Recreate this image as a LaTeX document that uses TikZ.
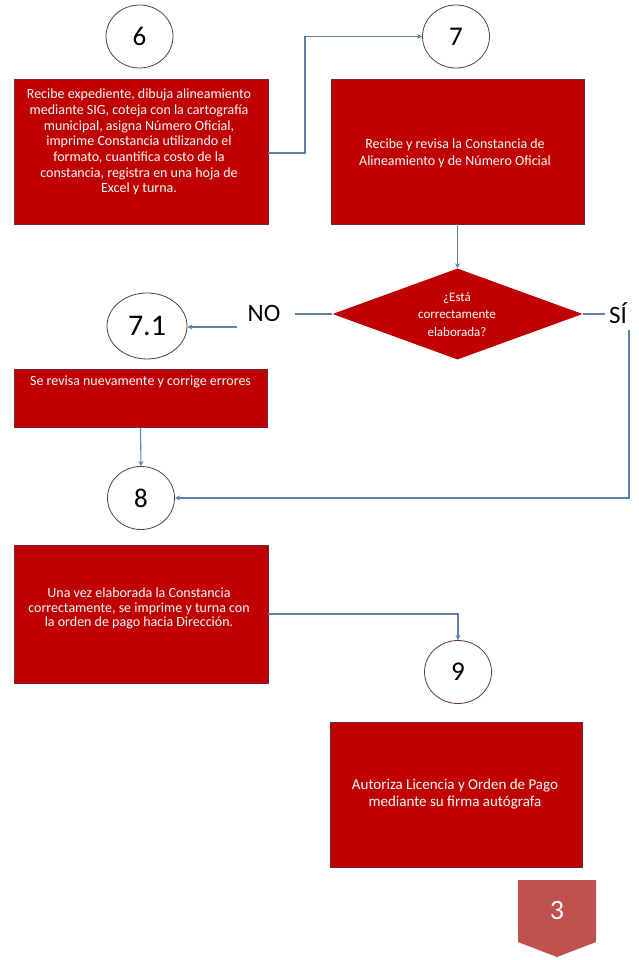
\documentclass[tikz,border=0pt]{standalone}
\usepackage{fontspec}
\setmainfont{Carlito}
\usetikzlibrary{shapes.geometric,arrows.meta}
\definecolor{boxred}{HTML}{C00000}
\definecolor{boxedge}{HTML}{6E2A3A}
\definecolor{numedge}{HTML}{5A3C3C}
\definecolor{flow}{HTML}{5B82AE}
\definecolor{tabred}{HTML}{C0504D}
\begin{document}
\begin{tikzpicture}[x=1pt,y=-1pt,
  stepbox/.style={draw=boxedge,line width=0.8pt,fill=boxred,inner sep=0pt},
  steptext/.style={text=white,align=center,inner sep=0pt,
    font=\fontsize{14}{15.7}\selectfont},
  stepnum/.style={ellipse,draw=numedge,line width=0.8pt,fill=white,
    minimum width=67pt,minimum height=63pt,inner sep=0pt,
    font=\fontsize{27}{27}\selectfont},
  decision/.style={diamond,fill=boxred,inner sep=0pt,
    minimum width=250pt,minimum height=91pt},
  answer/.style={font=\fontsize{25}{25}\selectfont,inner sep=0pt},
  flowline/.style={draw=flow,line width=1.1pt},
  flowarrow/.style={flowline,-{Stealth[length=5pt,width=5pt]}}]
\useasboundingbox[fill=white] (0,0) rectangle (639,960);

% step numbers
\node[stepnum] (n6) at (139.5,36.5) {6};
\node[stepnum] (n7) at (456,36.5) {7};
\node[stepnum,minimum width=80pt,minimum height=66pt,
      font=\fontsize{30}{30}\selectfont] (n71) at (147,326) {7.1};
\node[stepnum] (n8) at (141,498) {8};
\node[stepnum] (n9) at (458,672) {9};

% activity boxes
\node[stepbox,minimum width=254pt,minimum height=145pt] (b6) at (141,152) {};
\node[steptext] (t6) at (139,142)
  {Recibe expediente, dibuja alineamiento\\ mediante SIG, coteja con la cartografía\\
   municipal, asigna Número Oficial,\\ imprime Constancia utilizando el\\
   formato, cuantifica costo de la\\ constancia, registra en una hoja de\\ Excel y turna.};
\node[stepbox,minimum width=253pt,minimum height=145pt] (b7) at (457.5,151.5) {};
\node[steptext,font=\fontsize{14}{17}\selectfont] (t7) at (455,153.5)
  {Recibe y revisa la Constancia de\\ Alineamiento y de Número Oficial};
\node[decision] (d7) at (457.5,314) {};
\node[steptext,font=\fontsize{13}{17.5}\selectfont] (td) at (457,314.5)
  {¿Está\\ correctamente\\ elaborada?};
\node[stepbox,minimum width=253pt,minimum height=58pt] (b71) at (140.5,398) {};
\node[steptext] (t71) at (140.5,382) {Se revisa nuevamente y corrige errores};
\node[stepbox,minimum width=254pt,minimum height=138pt] (b8) at (141,614) {};
\node[steptext,font=\fontsize{14}{14.8}\selectfont] (t8) at (139,608.5)
  {Una vez elaborada la Constancia\\ correctamente, se imprime y turna con\\ la orden de pago hacia Dirección.};
\node[stepbox,minimum width=252pt,minimum height=145pt] (b9) at (456,794.5) {};
\node[steptext,font=\fontsize{15}{16.5}\selectfont] (t9) at (455,794)
  {Autoriza Licencia y Orden de Pago\\ mediante su firma autógrafa};

% decision answers
\node[answer] (no) at (264,313) {NO};
\node[answer] (si) at (618,313) {SÍ};
\coordinate (noend) at (295,314);
\coordinate (siend) at (605,314);
\coordinate (nostart) at (237,327);
\coordinate (sidown) at (629,330);
\coordinate (bend6) at (305,153);

% connectors
\draw[flowarrow] (b6.east |- bend6) -- (bend6) |- (n7.west);
\draw[flowarrow] (b7.south) -- (d7.north);
\draw[flowline] (d7.west) -- (noend);
\draw[flowline] (d7.east) -- (siend);
\draw[flowarrow] (nostart) -- (nostart -| n71.east);
\draw[flowarrow] (b71.south) -- (n8.north);
\draw[flowarrow] (sidown) |- (n8.east);
\draw[flowarrow] (b8.east) -| (n9.north);

% page marker
\fill[tabred] (518,880) -- (596,880) -- (596,942) -- (557,957) -- (518,942) -- cycle;
\node[text=white,font=\fontsize{28}{28}\selectfont] (pg) at (557,910) {3};
\end{tikzpicture}
\end{document}
